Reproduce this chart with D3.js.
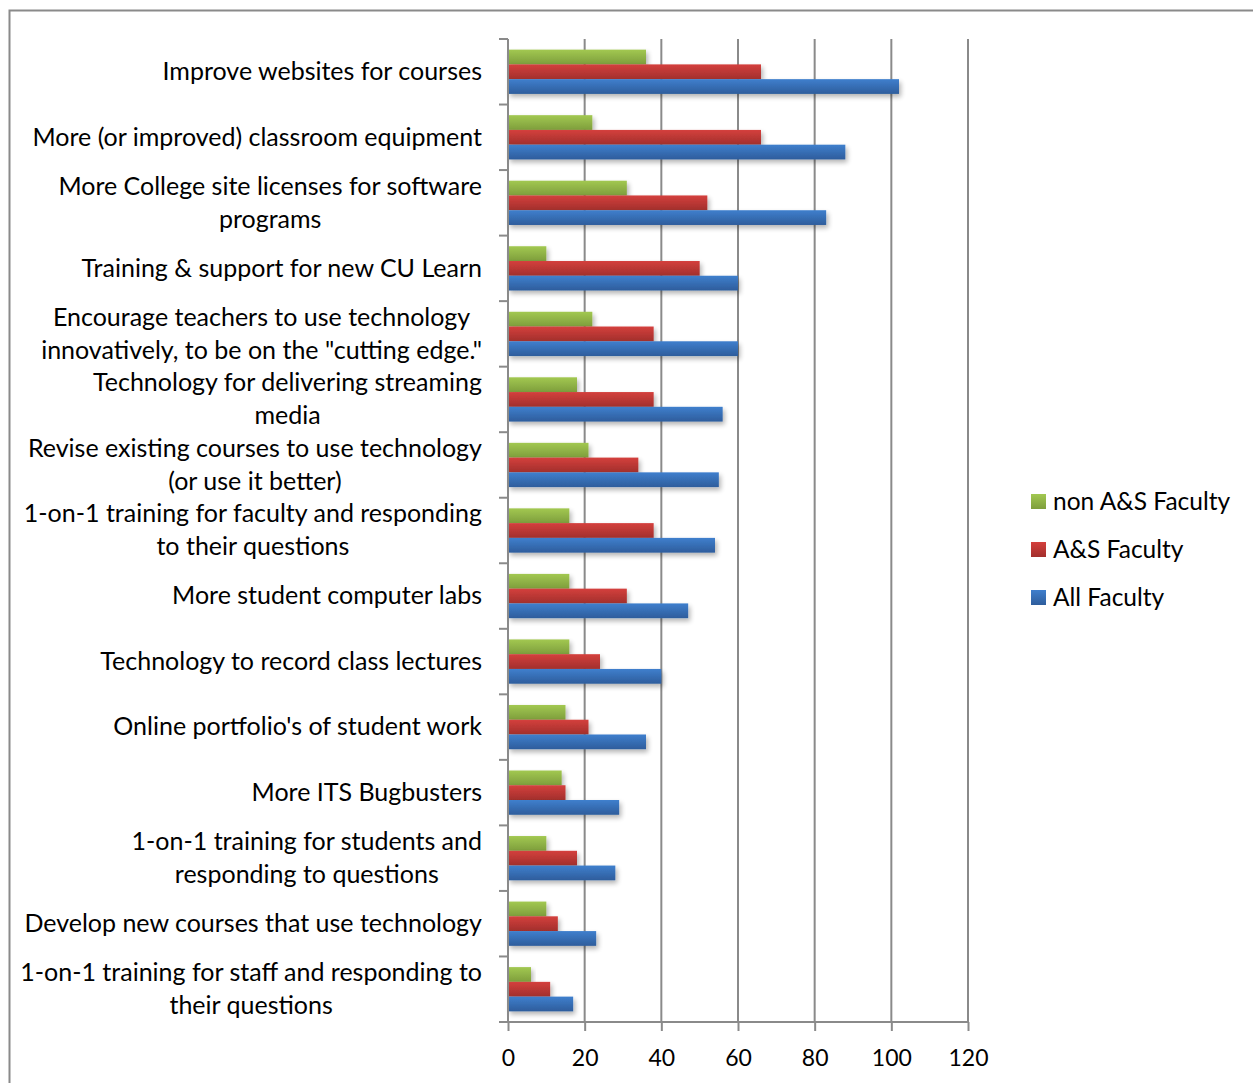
<!DOCTYPE html>
<html>
<head>
<meta charset="utf-8">
<script src="https://cdn.jsdelivr.net/npm/d3@7"></script>
<style>
  body { margin: 0; background: #fff; }
  svg text { font-family: Lato, "Open Sans", sans-serif; fill: #000; }
</style>
</head>
<body>
<div id="chart"></div>
<script>
var categories = [
  ["Improve websites for courses"],
  ["More (or improved) classroom equipment"],
  ["More College site licenses for software", "programs"],
  ["Training & support for new CU Learn"],
  ["Encourage teachers to use technology", "innovatively, to be on the \"cutting edge.\""],
  ["Technology for delivering streaming", "media"],
  ["Revise existing courses to use technology", "(or use it better)"],
  ["1-on-1 training for faculty and responding", "to their questions"],
  ["More student computer labs"],
  ["Technology to record class lectures"],
  ["Online portfolio's of student work"],
  ["More ITS Bugbusters"],
  ["1-on-1 training for students and", "responding to questions"],
  ["Develop new courses that use technology"],
  ["1-on-1 training for staff and responding to", "their questions"]
]
var seriesNames = ["non A&S Faculty", "A&S Faculty", "All Faculty"]
var nonAS = [36, 22, 31, 10, 22, 18, 21, 16, 16, 16, 15, 14, 10, 10, 6]
var aS    = [66, 66, 52, 50, 38, 38, 34, 38, 31, 24, 21, 15, 18, 13, 11]
var allF  = [102, 88, 83, 60, 60, 56, 55, 54, 47, 40, 36, 29, 28, 23, 17]
var xTicks = [0, 20, 40, 60, 80, 100, 120]

var colors = [
  ["#a2c851", "#7e9e3c"],
  ["#d4403d", "#a22f2c"],
  ["#3f7fcd", "#2e5d9c"]
]

var width = 1253, height = 1083
var plotLeft = 508, plotRight = 968, plotTop = 39, plotBottom = 1022

var svg = d3.select("#chart").append("svg")
  .attr("width", width)
  .attr("height", height)

var defs = svg.append("defs")
colors.forEach(function(c, i) {
  var g = defs.append("linearGradient")
    .attr("id", "grad" + i)
    .attr("x1", 0).attr("y1", 0).attr("x2", 0).attr("y2", 1)
  g.append("stop").attr("offset", "0%").attr("stop-color", c[0])
  g.append("stop").attr("offset", "100%").attr("stop-color", c[1])
})
var shadow = defs.append("filter").attr("id", "shadow")
  .attr("x", "-10%").attr("y", "-30%").attr("width", "130%").attr("height", "190%")
shadow.append("feGaussianBlur").attr("in", "SourceAlpha").attr("stdDeviation", 2.5)
shadow.append("feOffset").attr("dx", 2).attr("dy", 3).attr("result", "off")
shadow.append("feComponentTransfer").append("feFuncA").attr("type", "linear").attr("slope", 0.3)
var merge = shadow.append("feMerge")
merge.append("feMergeNode")
merge.append("feMergeNode").attr("in", "SourceGraphic")

// outer frame
svg.append("rect")
  .attr("x", 9.5).attr("y", 10.5)
  .attr("width", 1400).attr("height", 1200)
  .attr("fill", "none")
  .attr("stroke", "#8a8a8a")
  .attr("stroke-width", 2)

var x = d3.scaleLinear().domain([0, 120]).range([plotLeft, plotRight])
var y = d3.scaleBand()
  .domain(d3.range(categories.length))
  .range([plotTop, plotBottom])
var ySub = d3.scaleBand()
  .domain(d3.range(3))
  .range([0, y.bandwidth()])
  .paddingOuter(0.72)

// gridlines
svg.append("g")
  .selectAll("line")
  .data(xTicks.slice(1))
  .enter()
  .append("line")
  .attr("x1", function(d) { return x(d) })
  .attr("x2", function(d) { return x(d) })
  .attr("y1", plotTop)
  .attr("y2", plotBottom)
  .attr("stroke", "#8a8a8a")
  .attr("stroke-width", 2)

// bars
var seriesValues = [nonAS, aS, allF]
var groups = svg.append("g")
  .selectAll("g")
  .data(d3.range(categories.length))
  .enter()
  .append("g")
  .attr("transform", function(i) { return "translate(0," + y(i) + ")" })

groups.selectAll("rect")
  .data(function(i) { return seriesValues.map(function(s, k) { return {k: k, v: s[i]} }) })
  .enter()
  .append("rect")
  .attr("x", x(0))
  .attr("y", function(d) { return ySub(d.k) })
  .attr("width", function(d) { return x(d.v) - x(0) })
  .attr("height", ySub.bandwidth())
  .attr("fill", function(d) { return "url(#grad" + d.k + ")" })
  .attr("filter", "url(#shadow)")

// x axis
var xAxis = svg.append("g")
  .attr("transform", "translate(0," + plotBottom + ")")
  .call(d3.axisBottom(x).tickValues(xTicks).tickSize(9).tickPadding(19))
xAxis.select(".domain").attr("d", "M" + (plotLeft - 9) + ",0H" + plotRight)
xAxis.selectAll("line, path").attr("stroke", "#8a8a8a").attr("stroke-width", 2)
xAxis.selectAll("text")
  .style("font-size", "23px")
  .style("font-family", "Lato, 'Open Sans', sans-serif")
  .attr("fill", "#000")

// y axis line and category ticks
svg.append("line")
  .attr("x1", plotLeft).attr("x2", plotLeft)
  .attr("y1", plotTop).attr("y2", plotBottom)
  .attr("stroke", "#8a8a8a").attr("stroke-width", 2)
svg.append("g")
  .selectAll("line")
  .data(d3.range(categories.length + 1))
  .enter()
  .append("line")
  .attr("x1", plotLeft - 9).attr("x2", plotLeft)
  .attr("y1", function(i) { return plotTop + i * y.step() })
  .attr("y2", function(i) { return plotTop + i * y.step() })
  .attr("stroke", "#8a8a8a").attr("stroke-width", 2)

// category labels: block right aligned, lines centered within block
var lineH = 33
var labelRight = 482
var labels = svg.append("g")
categories.forEach(function(lines, i) {
  var g = labels.append("g")
  var cy = y(i) + y.bandwidth() / 2
  var texts = lines.map(function(l, j) {
    return g.append("text")
      .attr("y", cy + (j - (lines.length - 1) / 2) * lineH)
      .attr("dy", "0.33em")
      .attr("text-anchor", "middle")
      .style("font-size", "25px")
      .text(l)
  })
  var maxW = d3.max(texts, function(t) { return t.node().getComputedTextLength() })
  texts.forEach(function(t) { t.attr("x", labelRight - maxW / 2) })
})

// legend
var legendY = [501, 549, 597]
var legend = svg.append("g")
seriesNames.forEach(function(name, k) {
  legend.append("rect")
    .attr("x", 1031).attr("y", legendY[k] - 7)
    .attr("width", 15).attr("height", 15)
    .attr("fill", "url(#grad" + k + ")")
  legend.append("text")
    .attr("x", 1053).attr("y", legendY[k])
    .attr("dy", "0.35em")
    .style("font-size", "24.5px")
    .text(name)
})
</script>
</body>
</html>
